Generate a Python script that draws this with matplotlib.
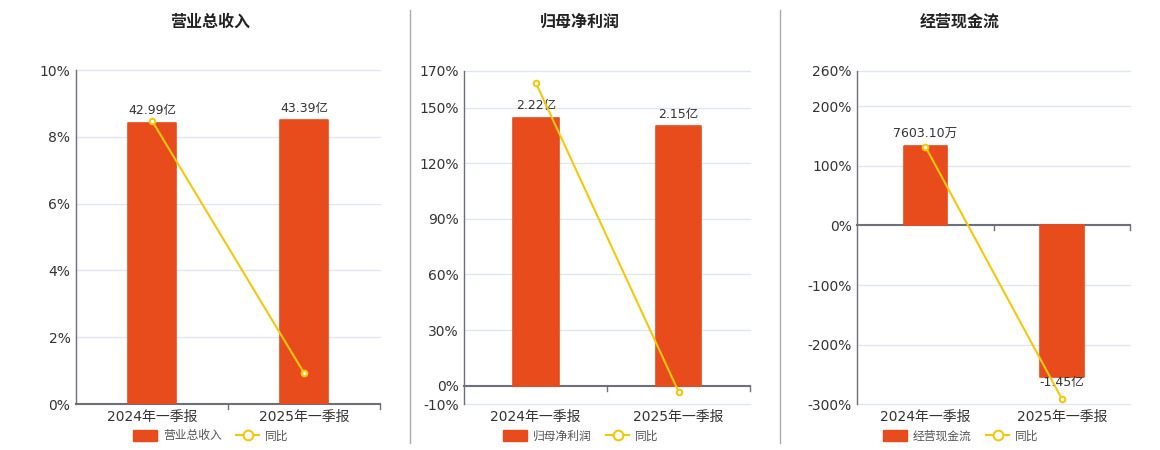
import numpy as np
import matplotlib
matplotlib.use('Agg')
import matplotlib.pyplot as plt
from matplotlib.lines import Line2D
from matplotlib.patches import Patch

plt.rcParams['font.family'] = ['DejaVu Sans', 'Noto Sans CJK SC']

# data
categories = ['2024年一季报', '2025年一季报']
titles = ['营业总收入', '归母净利润', '经营现金流']

revenue = [42.99, 43.39]            # 亿
revenue_labels = ['42.99亿', '43.39亿']
revenue_yoy = [8.48, 0.93]          # %

profit = [2.22, 2.15]               # 亿
profit_labels = ['2.22亿', '2.15亿']
profit_yoy = [163.5, -3.15]

cashflow = [0.7603, -1.45]          # 亿
cashflow_labels = ['7603.10万', '-1.45亿']
cashflow_yoy = [132.0, -290.7]

# y axes (percent) and the hidden bar-axis scale
yticks_list = [[0, 2, 4, 6, 8, 10],
               [-10, 0, 30, 60, 90, 120, 150, 170],
               [-300, -200, -100, 0, 100, 200, 260]]
bar_scale = [42.99 / 8.42, 2.22 / 144.4, 0.0057]

bar_color = '#e84c1d'
line_color = '#f2c80f'
grid_color = '#e0e6f1'
axis_color = '#6e7079'
text_color = '#333333'

W, H = 1160, 450
fig = plt.figure(figsize=(W / 100, H / 100), dpi=100)

# axes boxes in pixels: left, top, right, bottom
boxes = [(76, 70, 380, 404), (464.3, 70.5, 750, 404.3), (857.3, 70.5, 1130, 404.3)]
title_x = [210, 580, 960]
legend_x = [211, 581, 961]

bars_all = [revenue, profit, cashflow]
labels_all = [revenue_labels, profit_labels, cashflow_labels]
yoy_all = [revenue_yoy, profit_yoy, cashflow_yoy]

for i in range(3):
    l, t, r, b = boxes[i]
    ax = fig.add_axes([l / W, 1 - b / H, (r - l) / W, (b - t) / H])
    yt = yticks_list[i]
    ax.set_ylim(yt[0], yt[-1])
    ax.set_xlim(-0.5, 1.5)
    ax.set_yticks(yt)
    ax.set_yticklabels([f'{v}%' for v in yt], fontsize=10, color=text_color)
    for v in yt:
        if v != 0:
            ax.axhline(v, color=grid_color, lw=1, zorder=0, clip_on=False)
    for s in ['top', 'right', 'bottom']:
        ax.spines[s].set_visible(False)
    ax.spines['left'].set_color(axis_color)
    ax.spines['left'].set_linewidth(1)
    ax.tick_params(axis='y', length=0, pad=4)
    ax.axhline(0, color=axis_color, lw=1.5, zorder=4, clip_on=False)
    ax.set_xticks([0, 1])
    ax.set_xticklabels(categories, fontsize=10, color=text_color)
    ax.tick_params(axis='x', length=0, pad=4)
    # small ticks below the zero line at category boundaries
    yr = yt[-1] - yt[0]
    for xb in [0.5, 1.5]:
        ax.plot([xb, xb], [0, -yr * 0.015], color=axis_color, lw=1, zorder=4, clip_on=False)

    # bars on a hidden twin axis
    ax2 = ax.twinx()
    k = bar_scale[i]
    ax2.set_ylim(yt[0] * k, yt[-1] * k)
    ax2.set_xlim(-0.5, 1.5)
    ax2.axis('off')
    vals = bars_all[i]
    ax2.bar(range(2), vals, width=0.32, color=bar_color, edgecolor=bar_color,
            linewidth=1.2, joinstyle='round', zorder=2)
    for j, v in enumerate(vals):
        if v >= 0:
            ax2.annotate(labels_all[i][j], (j, v), xytext=(0, 4), textcoords='offset points',
                         ha='center', va='bottom', fontsize=9, color=text_color, zorder=6)
        else:
            ax2.annotate(labels_all[i][j], (j, v), xytext=(0, 1), textcoords='offset points',
                         ha='center', va='top', fontsize=9, color=text_color, zorder=6)

    # yoy line on top
    ax3 = ax.twinx()
    ax3.set_ylim(yt[0], yt[-1])
    ax3.set_xlim(-0.5, 1.5)
    ax3.axis('off')
    ax3.plot(range(2), yoy_all[i], color=line_color, lw=1.5, marker='o', ms=4,
             mfc='white', mec=line_color, mew=1.5, zorder=5)

    fig.text(title_x[i] / W, 1 - 22 / H, titles[i], ha='center', va='center',
             fontsize=11.5, fontweight='bold', color='#222222')

    handles = [Patch(facecolor=bar_color, edgecolor=bar_color, label=titles[i]),
               Line2D([0], [0], color=line_color, lw=1.5, marker='o', ms=7,
                      mfc='white', mec=line_color, mew=1.5, label='同比')]
    fig.legend(handles=handles, loc='center', bbox_to_anchor=(legend_x[i] / W, 1 - 436 / H),
               ncol=2, frameon=False, fontsize=8.5, handlelength=2.0, handleheight=1.0,
               columnspacing=1.2, handletextpad=0.5, labelcolor='#555555')

# separators between panels
for xs in [410, 780]:
    fig.add_artist(Line2D([xs / W, xs / W], [1 - 443 / H, 1 - 10 / H], color='#aaaaaa', lw=1))

fig.savefig('out.png', dpi=100)
